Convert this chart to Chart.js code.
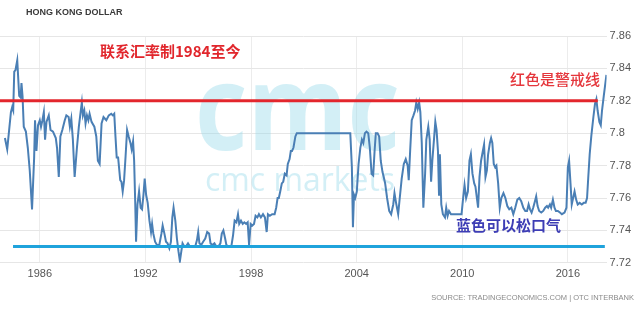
<!DOCTYPE html>
<html>
<head>
<meta charset="utf-8">
<script src="https://cdn.jsdelivr.net/npm/chart.js@4"></script>
<style>
  html, body { margin: 0; padding: 0; background: #fff; }
  #wrap { width: 640px; height: 326px; position: relative; }
</style>
</head>
<body>
<div id="wrap"><canvas id="hkdChart"></canvas></div>
<script>
// USD/HKD (decimal years)
const years = [
  1984.02, 1984.15, 1984.26, 1984.36, 1984.43, 1984.49, 1984.55, 1984.62, 1984.72, 1984.77,
  1984.83, 1984.91, 1984.96, 1985.02, 1985.09, 1985.21, 1985.32, 1985.43, 1985.56, 1985.68,
  1985.73, 1985.81, 1985.90, 1986.00, 1986.07, 1986.15, 1986.23, 1986.30, 1986.38, 1986.51,
  1986.61, 1986.75, 1986.91, 1986.98, 1987.08, 1987.17, 1987.28, 1987.42, 1987.51, 1987.64,
  1987.71, 1987.79, 1987.88, 1987.98, 1988.11, 1988.22, 1988.32, 1988.39, 1988.45, 1988.53,
  1988.60, 1988.68, 1988.76, 1988.83, 1988.94, 1989.10, 1989.21, 1989.30, 1989.40, 1989.51,
  1989.62, 1989.78, 1989.92, 1990.06, 1990.15, 1990.23, 1990.30, 1990.37, 1990.45, 1990.57,
  1990.64, 1990.71, 1990.79, 1990.87, 1990.96, 1991.05, 1991.15, 1991.22, 1991.30, 1991.36,
  1991.42, 1991.47, 1991.55, 1991.64, 1991.73, 1991.81, 1991.89, 1991.96, 1992.04, 1992.13,
  1992.23, 1992.32, 1992.38, 1992.45, 1992.55, 1992.66, 1992.79, 1992.91, 1992.98, 1993.08,
  1993.17, 1993.26, 1993.36, 1993.45, 1993.53, 1993.60, 1993.70, 1993.79, 1993.88, 1993.96,
  1994.04, 1994.11, 1994.21, 1994.30, 1994.42, 1994.53, 1994.68, 1994.83, 1994.93, 1995.00,
  1995.07, 1995.17, 1995.28, 1995.40, 1995.51, 1995.62, 1995.70, 1995.81, 1995.92, 1996.03,
  1996.15, 1996.26, 1996.34, 1996.43, 1996.53, 1996.60, 1996.75, 1996.88, 1996.98, 1997.07,
  1997.17, 1997.26, 1997.33, 1997.43, 1997.53, 1997.62, 1997.72, 1997.81, 1997.89, 1997.98,
  1998.07, 1998.17, 1998.26, 1998.36, 1998.45, 1998.56, 1998.68, 1998.79, 1998.89, 1998.96,
  1999.07, 1999.20, 1999.34, 1999.43, 1999.51, 1999.58, 1999.66, 1999.75, 1999.83, 1999.92,
  2000.02, 2000.09, 2000.19, 2000.26, 2000.33, 2000.41, 2000.52, 2000.60, 2001.50, 2002.50,
  2003.64, 2003.73, 2003.79, 2003.85, 2003.92, 2004.01, 2004.11, 2004.21, 2004.30, 2004.38,
  2004.47, 2004.56, 2004.66, 2004.75, 2004.85, 2004.94, 2005.02, 2005.09, 2005.19, 2005.28,
  2005.37, 2005.47, 2005.54, 2005.62, 2005.73, 2005.85, 2005.96, 2006.08, 2006.15, 2006.24,
  2006.36, 2006.45, 2006.56, 2006.68, 2006.79, 2006.90, 2006.96, 2007.04, 2007.13, 2007.23,
  2007.32, 2007.39, 2007.47, 2007.55, 2007.62, 2007.70, 2007.79, 2007.89, 2007.96, 2008.07,
  2008.15, 2008.23, 2008.30, 2008.40, 2008.47, 2008.54, 2008.62, 2008.68, 2008.73, 2008.81,
  2008.90, 2009.02, 2009.09, 2009.17, 2009.25, 2009.36, 2009.51, 2009.68, 2009.87, 2009.96,
  2010.05, 2010.13, 2010.22, 2010.32, 2010.41, 2010.49, 2010.58, 2010.68, 2010.75, 2010.83,
  2010.90, 2010.98, 2011.07, 2011.17, 2011.24, 2011.32, 2011.40, 2011.47, 2011.57, 2011.64,
  2011.71, 2011.79, 2011.87, 2011.94, 2012.04, 2012.13, 2012.22, 2012.34, 2012.45, 2012.56,
  2012.67, 2012.79, 2012.90, 2013.01, 2013.13, 2013.24, 2013.35, 2013.47, 2013.58, 2013.68,
  2013.77, 2013.85, 2013.94, 2014.03, 2014.13, 2014.20, 2014.28, 2014.37, 2014.49, 2014.60,
  2014.71, 2014.81, 2014.88, 2014.98, 2015.05, 2015.15, 2015.24, 2015.32, 2015.43, 2015.55,
  2015.66, 2015.81, 2015.92, 2016.00, 2016.07, 2016.15, 2016.22, 2016.30, 2016.38, 2016.47,
  2016.56, 2016.67, 2016.79, 2016.90, 2017.01, 2017.09, 2017.16, 2017.24, 2017.33, 2017.45,
  2017.54, 2017.62, 2017.69, 2017.79, 2017.87, 2017.94, 2018.04, 2018.11, 2018.19
];
const usdhkd = [
  7.797, 7.790, 7.802, 7.813, 7.816, 7.814, 7.838, 7.839, 7.845, 7.835,
  7.823, 7.822, 7.831, 7.823, 7.804, 7.801, 7.791, 7.777, 7.753, 7.785,
  7.808, 7.789, 7.805, 7.808, 7.804, 7.808, 7.813, 7.796, 7.807, 7.811,
  7.802, 7.801, 7.797, 7.791, 7.773, 7.798, 7.802, 7.808, 7.811, 7.810,
  7.804, 7.809, 7.796, 7.773, 7.791, 7.804, 7.813, 7.819, 7.811, 7.814,
  7.806, 7.811, 7.808, 7.812, 7.807, 7.804, 7.798, 7.783, 7.781, 7.806,
  7.810, 7.808, 7.811, 7.812, 7.811, 7.812, 7.798, 7.785, 7.785, 7.771,
  7.770, 7.764, 7.771, 7.785, 7.802, 7.798, 7.794, 7.790, 7.795, 7.783,
  7.758, 7.733, 7.756, 7.764, 7.754, 7.753, 7.762, 7.772, 7.762, 7.757,
  7.746, 7.739, 7.744, 7.738, 7.733, 7.731, 7.731, 7.738, 7.743, 7.738,
  7.733, 7.732, 7.729, 7.733, 7.748, 7.754, 7.746, 7.735, 7.727, 7.721,
  7.727, 7.732, 7.730, 7.730, 7.732, 7.730, 7.730, 7.730, 7.734, 7.739,
  7.732, 7.731, 7.733, 7.735, 7.739, 7.738, 7.732, 7.731, 7.732, 7.730,
  7.730, 7.732, 7.738, 7.740, 7.735, 7.731, 7.730, 7.730, 7.737, 7.746,
  7.745, 7.750, 7.744, 7.746, 7.744, 7.745, 7.744, 7.745, 7.731, 7.744,
  7.743, 7.744, 7.749, 7.748, 7.750, 7.748, 7.750, 7.748, 7.739, 7.750,
  7.749, 7.750, 7.750, 7.754, 7.760, 7.760, 7.764, 7.769, 7.770, 7.775,
  7.774, 7.781, 7.784, 7.789, 7.789, 7.791, 7.798, 7.800, 7.800, 7.800,
  7.800, 7.779, 7.742, 7.762, 7.760, 7.764, 7.781, 7.791, 7.796, 7.794,
  7.800, 7.801, 7.800, 7.791, 7.775, 7.774, 7.789, 7.800, 7.800, 7.798,
  7.783, 7.776, 7.773, 7.769, 7.760, 7.752, 7.750, 7.756, 7.763, 7.757,
  7.750, 7.760, 7.772, 7.781, 7.784, 7.780, 7.771, 7.789, 7.808, 7.811,
  7.814, 7.819, 7.815, 7.819, 7.813, 7.794, 7.754, 7.775, 7.796, 7.804,
  7.796, 7.770, 7.783, 7.797, 7.807, 7.802, 7.789, 7.762, 7.787, 7.756,
  7.750, 7.748, 7.754, 7.749, 7.752, 7.750, 7.750, 7.750, 7.750, 7.750,
  7.760, 7.768, 7.760, 7.764, 7.783, 7.787, 7.775, 7.769, 7.767, 7.760,
  7.754, 7.773, 7.783, 7.789, 7.793, 7.773, 7.777, 7.787, 7.794, 7.797,
  7.794, 7.781, 7.779, 7.780, 7.769, 7.754, 7.760, 7.763, 7.760, 7.755,
  7.753, 7.754, 7.750, 7.754, 7.759, 7.760, 7.758, 7.754, 7.752, 7.752,
  7.756, 7.753, 7.751, 7.754, 7.758, 7.761, 7.755, 7.752, 7.751, 7.752,
  7.754, 7.755, 7.754, 7.756, 7.754, 7.759, 7.754, 7.752, 7.752, 7.751,
  7.750, 7.751, 7.754, 7.779, 7.783, 7.769, 7.756, 7.760, 7.764, 7.759,
  7.756, 7.757, 7.756, 7.757, 7.757, 7.760, 7.773, 7.787, 7.798, 7.810,
  7.818, 7.821, 7.814, 7.807, 7.805, 7.814, 7.823, 7.829, 7.836
];

// hand-drawn guide lines
const warnYears = [1983.74, 2017.70];
const warnLevel = 7.82;
const safeYears = [1984.48, 2018.10];
const safeLevel = 7.73;

const yearTicks = [1986, 1992, 1998, 2004, 2010, 2016];
const rateTicks = [7.72, 7.74, 7.76, 7.78, 7.8, 7.82, 7.84, 7.86];

const titleText = 'HONG KONG DOLLAR';
const sourceText = 'SOURCE: TRADINGECONOMICS.COM | OTC INTERBANK';
const noteTop = '联系汇率制1984至今';
const noteRed = '红色是警戒线';
const noteBlue = '蓝色可以松口气';

const cjk = '"Noto Sans CJK SC", sans-serif';
const latin = '"Liberation Sans", Arial, sans-serif';

const overlay = {
    id: 'overlay',
    beforeDatasetsDraw(chart) {
        const ctx = chart.ctx;
        ctx.save();
        ctx.fillStyle = 'rgba(150, 218, 234, 0.42)';
        ctx.textBaseline = 'alphabetic';
        ctx.font = 'bold 118px "Open Sans", sans-serif';
        let w = ctx.measureText('cmc').width;
        ctx.save();
        ctx.translate(195, 150);
        ctx.scale(205 / w, 1);
        ctx.fillText('cmc', 0, 0);
        ctx.restore();
        ctx.font = '32px "Open Sans", sans-serif';
        w = ctx.measureText('cmc markets').width;
        ctx.translate(205, 191);
        ctx.scale(190 / w, 1);
        ctx.fillText('cmc markets', 0, 0);
        ctx.restore();
    },
    afterDraw(chart) {
        const ctx = chart.ctx;
        ctx.save();
        ctx.textBaseline = 'middle';
        ctx.textAlign = 'left';

        ctx.fillStyle = '#3a3a3a';
        ctx.font = 'bold 9px ' + latin;
        ctx.fillText(titleText, 26, 13);

        ctx.fillStyle = '#e1262c';
        ctx.font = 'bold 15px ' + cjk;
        ctx.fillText(noteTop, 100, 51);

        ctx.fillStyle = '#e5363c';
        ctx.font = '500 15px ' + cjk;
        ctx.fillText(noteRed, 510, 79);

        ctx.fillStyle = '#3d3db5';
        ctx.font = 'bold 15px ' + cjk;
        ctx.fillText(noteBlue, 456, 225);

        ctx.fillStyle = '#8a8a8a';
        ctx.font = '7.5px ' + latin;
        ctx.textAlign = 'right';
        ctx.fillText(sourceText, 634, 298);
        ctx.restore();
    }
};

function initChart() {
    const ctx = document.getElementById('hkdChart').getContext('2d');
    Chart.defaults.font.family = latin;
    Chart.defaults.color = '#555';

    new Chart(ctx, {
        type: 'line',
        data: {
            datasets: [
                {
                    label: 'USDHKD',
                    data: years.map((yr, i) => ({ x: yr, y: usdhkd[i] })),
                    borderColor: '#4a7fb5',
                    borderWidth: 2,
                    pointRadius: 0,
                    tension: 0,
                    fill: false,
                    order: 2
                },
                {
                    label: 'warn',
                    data: warnYears.map(yr => ({ x: yr, y: warnLevel })),
                    borderColor: '#e3262d',
                    borderWidth: 3,
                    pointRadius: 0,
                    fill: false,
                    order: 1
                },
                {
                    label: 'safe',
                    data: safeYears.map(yr => ({ x: yr, y: safeLevel })),
                    borderColor: '#1fa3dc',
                    borderWidth: 3,
                    pointRadius: 0,
                    fill: false,
                    order: 1
                }
            ]
        },
        options: {
            responsive: true,
            maintainAspectRatio: false,
            animation: false,
            layout: { padding: { left: 0, right: 6, top: 36, bottom: 40 } },
            scales: {
                x: {
                    type: 'linear',
                    min: 1983.74,
                    max: 2018.2,
                    afterBuildTicks: axis => { axis.ticks = yearTicks.map(v => ({ value: v })); },
                    grid: { color: '#ececec', drawTicks: false },
                    border: { display: false },
                    ticks: {
                        padding: 5,
                        maxRotation: 0,
                        font: { size: 11 },
                        callback: v => String(v)
                    }
                },
                y: {
                    position: 'right',
                    min: 7.72,
                    max: 7.86,
                    afterBuildTicks: axis => { axis.ticks = rateTicks.map(v => ({ value: v })); },
                    grid: { color: '#e6e6e6', drawTicks: false },
                    border: { display: false },
                    ticks: {
                        padding: 3,
                        font: { size: 11 },
                        callback: v => String(+v.toFixed(2))
                    }
                }
            },
            plugins: {
                legend: { display: false },
                tooltip: { enabled: false }
            }
        },
        plugins: [overlay]
    });
}

document.addEventListener('DOMContentLoaded', initChart);
</script>
</body>
</html>
